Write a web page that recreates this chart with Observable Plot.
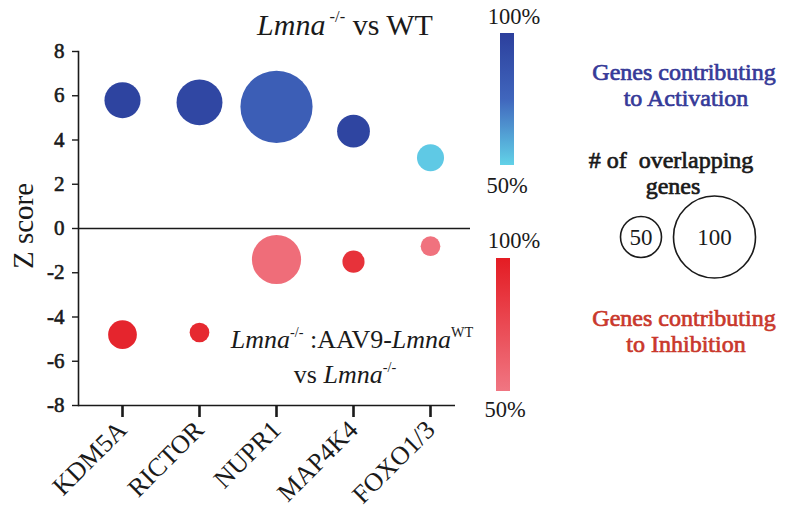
<!DOCTYPE html>
<html><head><meta charset="utf-8">
<script src="https://cdn.jsdelivr.net/npm/d3@7"></script>
<script src="https://cdn.jsdelivr.net/npm/@observablehq/plot@0.6"></script>
<style>
body{margin:0;background:#fff;}
#chart{position:relative;width:785px;height:510px;overflow:hidden;}
</style></head><body><div id="chart"></div>
<script>
// ---- data ----
const genes = ["KDM5A", "RICTOR", "NUPR1", "MAP4K4", "FOXO1/3"];
// Activation (Lmna-/- vs WT)
const activationZ = [5.8, 5.7, 5.5, 4.4, 3.2];
const activationN = [44, 56, 88, 40, 33];        // # of overlapping genes
const activationPct = [97, 95, 80, 96, 52];       // % genes contributing to activation
// Inhibition (Lmna-/-:AAV9-LmnaWT vs Lmna-/-)
const inhibitionZ = [-4.8, -4.7, -1.4, -1.5, -0.8];
const inhibitionN = [35, 24, 60, 27, 24];
const inhibitionPct = [95, 93, 55, 88, 52];
const yTicks = [-8, -6, -4, -2, 0, 2, 4, 6, 8];
const sizeLegend = [50, 100];
const pctLegend = [100, 50];

// colour anchors (percent -> colour)
const redPctDomain = [-100, -50];
const redColors = ["#e41c23", "#f07682"];
const bluePctDomain = [50, 75, 100];
const blueColors = ["#62d2e8", "#4066bd", "#2c3f9c"];

// table built from the arrays (inhibition percentages stored negative)
const rows = [
  ...genes.map((g, i) => ({gene: g, z: activationZ[i], n: activationN[i], pct: activationPct[i]})),
  ...genes.map((g, i) => ({gene: g, z: inhibitionZ[i], n: inhibitionN[i], pct: -inhibitionPct[i]}))
];

const serif = "Liberation Serif, Times New Roman, serif";

const chart = Plot.plot({
  width: 785,
  height: 510,
  marginLeft: 78,
  marginRight: 315,
  marginTop: 51,
  marginBottom: 105,
  style: {fontFamily: serif, color: "#1a1a1a", background: "#fff", overflow: "visible"},
  x: {type: "point", domain: genes, padding: 0, insetLeft: 42, insetRight: 39, label: null},
  y: {domain: [-8, 8], label: null},
  r: {type: "linear", domain: [0, 100], range: [0, 41]},
  color: {type: "linear", domain: [...redPctDomain, ...bluePctDomain], range: [...redColors, ...blueColors]},
  marks: [
    Plot.frame({anchor: "left", stroke: "#1a1a1a", strokeWidth: 1.6}),
    Plot.ruleY([-8], {stroke: "#1a1a1a", strokeWidth: 1.6, insetRight: 15}),
    Plot.ruleY([0], {stroke: "#1a1a1a", strokeWidth: 1.4}),
    Plot.axisY({ticks: yTicks, tickFormat: d => String(d), tickSize: 6, tickPadding: 8,
      fontFamily: serif, fontSize: 21, strokeWidth: 1.4, label: null}),
    Plot.axisX({tickSize: 12, tickPadding: 8, tickRotate: -45, fontFamily: serif, fontSize: 26,
      strokeWidth: 2.6, label: null}),
    Plot.dot(rows, {x: "gene", y: "z", r: "n", fill: "pct", stroke: "none"})
  ]
});

document.getElementById("chart").appendChild(chart);

// ---- annotations & legends in the same SVG ----
const svg = d3.select(chart);
const colorScale = chart.scale("color");
const rScale = chart.scale("r");

// slightly emboldened y tick labels (serif bold face is not available)
svg.selectAll('g[aria-label="y-axis tick label"] text')
  .style("stroke", "#1a1a1a").style("stroke-width", "0.6px").style("paint-order", "stroke");

function richText(x, y, parts, opts = {}) {
  const size = opts.size || 20;
  const t = svg.append("text")
    .attr("x", x).attr("y", y)
    .attr("text-anchor", opts.anchor || "middle")
    .style("font-family", serif)
    .style("font-size", size + "px")
    .attr("fill", opts.fill || "#1a1a1a");
  parts.forEach(p => {
    const s = t.append("tspan").text(p.t);
    if (p.i) s.style("font-style", "italic");
    if (p.sup) s.style("font-size", (size * 0.55) + "px").attr("dy", -size * 0.42);
    if (p.back) s.attr("dy", size * 0.42);
  });
  return t;
}

// title
richText(345, 35, [{t: "Lmna", i: true}, {t: " -/-", sup: true}, {t: " vs WT", back: true}], {size: 30});

// inner annotation
richText(352, 348, [{t: "Lmna", i: true}, {t: "-/-", sup: true}, {t: " :AAV9-", back: true}, {t: "Lmna", i: true}, {t: "WT", sup: true}], {size: 26});
richText(345, 383, [{t: "vs "}, {t: "Lmna", i: true}, {t: "-/-", sup: true}], {size: 26});

// y label
svg.append("text")
  .attr("transform", "translate(33,226) rotate(-90)")
  .attr("text-anchor", "middle")
  .style("font-family", serif)
  .style("font-size", "29px")
  .attr("fill", "#1a1a1a")
  .text("Z score");

// colour bars
const defs = svg.append("defs");
function gradient(id, sign) {
  const g = defs.append("linearGradient").attr("id", id).attr("x1", 0).attr("x2", 0).attr("y1", 0).attr("y2", 1);
  d3.range(100, 49, -5).forEach(p => {
    g.append("stop").attr("offset", ((100 - p) / 50 * 100) + "%").attr("stop-color", colorScale.apply(sign * p));
  });
}
gradient("gBlue", 1);
gradient("gRed", -1);
svg.append("rect").attr("x", 500).attr("y", 33).attr("width", 14).attr("height", 132).attr("fill", "url(#gBlue)");
svg.append("rect").attr("x", 496).attr("y", 258).attr("width", 14).attr("height", 133).attr("fill", "url(#gRed)");

const pctLabel = (x, y, v) => svg.append("text").attr("x", x).attr("y", y).attr("text-anchor", "middle")
  .style("font-family", serif).style("font-size", "22.5px").attr("fill", "#1a1a1a").text(v + "%");
pctLabel(514, 24, pctLegend[0]);
pctLabel(507, 193, pctLegend[1]);
pctLabel(514, 248, pctLegend[0]);
pctLabel(505, 417, pctLegend[1]);

// legend texts (regular serif face, emboldened with a thin stroke)
const legendText = (x, y, s, fill, size) => svg.append("text").attr("x", x).attr("y", y).attr("text-anchor", "middle")
  .style("font-family", serif).style("font-size", size + "px")
  .style("stroke", fill).style("stroke-width", "0.7px").style("paint-order", "stroke")
  .attr("fill", fill).text(s);
legendText(684, 80, "Genes contributing", "#363a98", 24);
legendText(686, 106, "to Activation", "#363a98", 24);
legendText(671, 168, "# of  overlapping", "#1a1a1a", 24);
legendText(673, 194, "genes", "#1a1a1a", 24);
legendText(684, 326, "Genes contributing", "#c9382c", 24);
legendText(686, 352, "to Inhibition", "#c9382c", 24);

// size legend
const r50 = rScale.apply(sizeLegend[0]), r100 = rScale.apply(sizeLegend[1]);
const cx50 = 641, cx100 = cx50 + r50 + r100 + 12, cy = 237;
[[cx50, r50, sizeLegend[0]], [cx100, r100, sizeLegend[1]]].forEach(([cx, r, v]) => {
  svg.append("circle").attr("cx", cx).attr("cy", cy).attr("r", r).attr("fill", "none").attr("stroke", "#1a1a1a").attr("stroke-width", 1.6);
  svg.append("text").attr("x", cx).attr("y", cy + 8).attr("text-anchor", "middle").style("font-family", serif)
    .style("font-size", "23px").attr("fill", "#1a1a1a").text(v);
});
</script>
</body></html>
